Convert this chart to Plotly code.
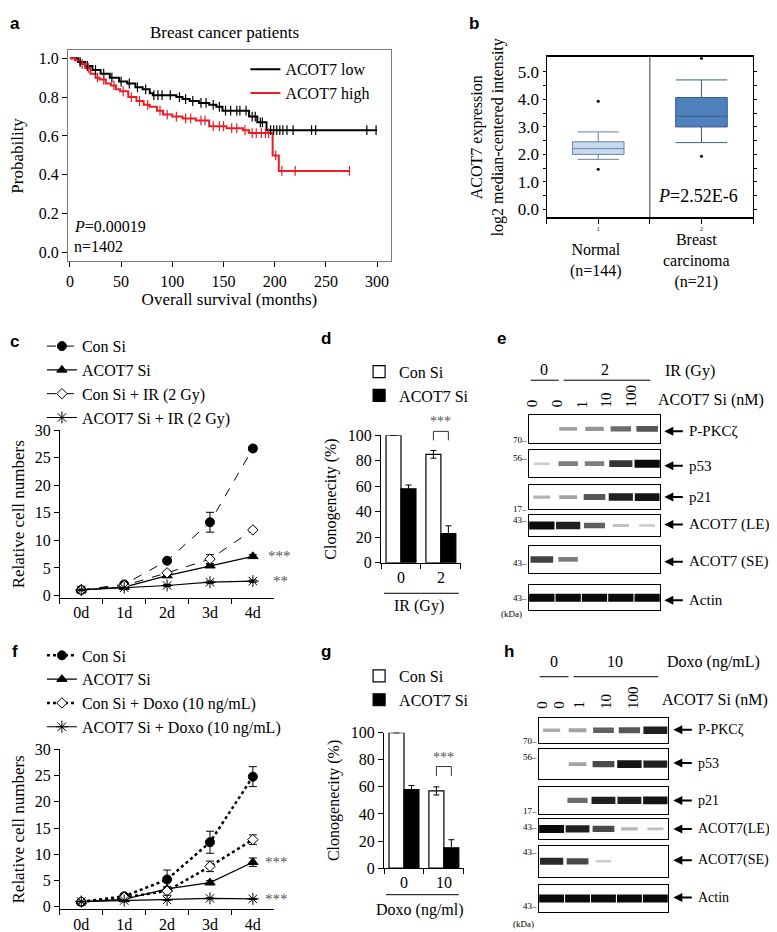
import plotly.graph_objects as go
import numpy as np

W, H = 777, 932


def px(x):
    return x / W


def py(y):
    return 1 - y / H


def xd(a, b):
    return [a / W, b / W]


def yd(top, bottom):
    return [1 - bottom / H, 1 - top / H]


SERIF = "Liberation Serif"
SANS = "Liberation Sans"
RED = "#ec1c24"

# ---------------- data ----------------
# a) Kaplan-Meier, breast cancer patients
km_low_t = [0, 8, 15, 22, 30, 39, 48, 56, 64, 71, 78, 81, 95, 104, 110, 117, 126, 136, 143, 149, 160, 169, 175, 183, 192, 300]
km_low_s = [1.0, 0.98, 0.96, 0.94, 0.92, 0.90, 0.88, 0.87, 0.85, 0.84, 0.82, 0.81, 0.81, 0.80, 0.79, 0.78, 0.77, 0.76, 0.75, 0.73, 0.73, 0.73, 0.70, 0.67, 0.63, 0.63]
km_high_t = [0, 5, 10, 15, 20, 25, 29, 35, 40, 45, 49, 57, 65, 72, 78, 85, 91, 100, 110, 123, 136, 153, 169, 175, 198, 204, 273]
km_high_s = [1.0, 0.99, 0.97, 0.95, 0.92, 0.90, 0.89, 0.87, 0.86, 0.84, 0.83, 0.80, 0.78, 0.76, 0.75, 0.73, 0.71, 0.70, 0.69, 0.68, 0.65, 0.64, 0.63, 0.615, 0.50, 0.42, 0.42]
km_low_cens = [10, 17, 25, 33, 41, 50, 58, 66, 74, 82, 86, 90, 98, 107, 113, 120, 128, 133, 140, 146, 152, 157, 163, 166, 172, 178, 181, 186, 188, 196, 199, 202, 205, 208, 212, 218, 236, 240, 290, 299]
km_high_cens = [12, 18, 27, 33, 43, 52, 60, 68, 76, 88, 95, 104, 113, 118, 128, 132, 140, 146, 150, 158, 163, 171, 178, 182, 187, 191, 194, 201, 207, 220, 273]

# b) Oncomine box plot
box_pos = [0, 1]
box_q1 = [2.00, 3.00]
box_med = [2.21, 3.39]
box_q3 = [2.46, 4.07]
box_lo = [1.82, 2.43]
box_hi = [2.82, 4.71]
box_out_lo = [1.46, 1.93]
box_out_hi = [3.93, 5.50]
box_fill = ["#c5d8ee", "#4f81bd"]
box_line = ["#6a86a8", "#3b5f8a"]

# c) growth with IR
days = ["0d", "1d", "2d", "3d", "4d"]
c_con = [1.0, 2.0, 6.3, 13.3, 26.7]
c_con_err = [0.2, 0.3, 0.4, 1.8, 0.5]
c_acot = [1.0, 1.5, 3.6, 5.4, 7.1]
c_acot_err = [0.1, 0.2, 0.3, 0.3, 0.3]
c_con_ir = [1.0, 1.8, 4.1, 6.6, 11.9]
c_con_ir_err = [0.1, 0.2, 0.3, 0.8, 0.3]
c_acot_ir = [1.0, 1.4, 1.8, 2.4, 2.6]
c_acot_ir_err = [0.1, 0.1, 0.2, 0.2, 0.2]

# f) growth with doxorubicin
f_con = [0.9, 2.0, 5.2, 12.3, 24.8]
f_con_err = [0.3, 0.3, 1.8, 2.1, 1.9]
f_con_dx = [1.0, 1.8, 3.0, 7.7, 12.8]
f_con_dx_err = [0.2, 0.2, 0.8, 1.0, 0.9]
f_acot = [1.0, 1.4, 3.4, 4.6, 8.5]
f_acot_err = [0.1, 0.1, 0.4, 0.4, 0.8]
f_acot_dx = [1.0, 1.2, 1.3, 1.6, 1.5]
f_acot_dx_err = [0.1, 0.1, 0.1, 0.1, 0.1]

# d) clonogenicity IR
d_dose = ["0", "2"]
d_con = [100, 85]
d_con_err = [0, 3]
d_acot = [58, 23]
d_acot_err = [3, 6]

# g) clonogenicity Doxo
g_dose = ["0", "10"]
g_con = [100, 57]
g_con_err = [0, 3]
g_acot = [58, 15]
g_acot_err = [3, 6]

# e/h) western blots: band intensity per lane (0..1)
lanes = ["0", "0", "1", "10", "100"]
blot_names_e = ["P-PKCζ", "p53", "p21", "ACOT7 (LE)", "ACOT7 (SE)", "Actin"]
blot_e = [
    [0.0, 0.30, 0.35, 0.55, 0.65],
    [0.10, 0.45, 0.45, 0.80, 1.00],
    [0.20, 0.30, 0.65, 0.90, 0.95],
    [1.00, 0.90, 0.60, 0.15, 0.10],
    [0.75, 0.45, 0.0, 0.0, 0.0],
    [1.00, 1.00, 1.00, 1.00, 1.00],
]
blot_names_h = ["P-PKCζ", "p53", "p21", "ACOT7(LE)", "ACOT7(SE)", "Actin"]
blot_h = [
    [0.25, 0.30, 0.60, 0.65, 0.90],
    [0.0, 0.30, 0.70, 0.95, 0.90],
    [0.0, 0.55, 0.90, 0.90, 0.95],
    [1.00, 0.90, 0.70, 0.20, 0.15],
    [0.85, 0.70, 0.10, 0.0, 0.0],
    [1.00, 1.00, 1.00, 1.00, 1.00],
]
mw_e = ["70", "56", "17", "43", "43", "43"]
mw_h = ["70", "56", "17", "43", "43", "43"]

# ---------------- figure ----------------
fig = go.Figure()


def step_at(ts, ss, t):
    i = np.searchsorted(np.array(ts), t, side="right") - 1
    return ss[i]


# a
fig.add_trace(go.Scatter(x=km_low_t, y=km_low_s, mode="lines", name="ACOT7 low",
                         line=dict(color="black", width=2, shape="hv"), xaxis="x", yaxis="y", legend="legend"))
fig.add_trace(go.Scatter(x=km_high_t, y=km_high_s, mode="lines", name="ACOT7 high",
                         line=dict(color=RED, width=2, shape="hv"), xaxis="x", yaxis="y", legend="legend"))
fig.add_trace(go.Scatter(x=km_low_cens, y=[step_at(km_low_t, km_low_s, t) for t in km_low_cens], mode="markers",
                         marker=dict(symbol="line-ns", size=7, line=dict(color="black", width=1.2)),
                         showlegend=False, xaxis="x", yaxis="y"))
fig.add_trace(go.Scatter(x=km_high_cens, y=[step_at(km_high_t, km_high_s, t) for t in km_high_cens], mode="markers",
                         marker=dict(symbol="line-ns", size=7, line=dict(color=RED, width=1.2)),
                         showlegend=False, xaxis="x", yaxis="y"))

# b
for i in range(2):
    fig.add_trace(go.Box(x=[box_pos[i]], q1=[box_q1[i]], median=[box_med[i]], q3=[box_q3[i]],
                         lowerfence=[box_lo[i]], upperfence=[box_hi[i]], width=0.5,
                         whiskerwidth=0.8 if i == 0 else 1.0,
                         fillcolor=box_fill[i], line=dict(color=box_line[i], width=1),
                         boxpoints=False, showlegend=False, xaxis="x2", yaxis="y2"))
fig.add_trace(go.Scatter(x=box_pos + box_pos, y=box_out_lo + box_out_hi, mode="markers",
                         marker=dict(color="black", size=3), showlegend=False, xaxis="x2", yaxis="y2"))


# c & f line charts
def growth(xa, ya, y, err, name, dash, symbol, legend, lw=1.0, msize=9, mcolor="black"):
    fig.add_trace(go.Scatter(
        x=days, y=y, name=name, mode="lines+markers",
        line=dict(color="black", width=lw, dash=dash),
        marker=dict(symbol=symbol, size=msize, color=mcolor, line=dict(color="black", width=1)),
        error_y=dict(type="data", array=err, color="black", thickness=1, width=4),
        xaxis=xa, yaxis=ya, legend=legend))


growth("x3", "y3", c_con, c_con_err, "Con Si", "dash", "circle", "legend2")
growth("x3", "y3", c_acot, c_acot_err, "ACOT7 Si", "solid", "triangle-up", "legend2", lw=1.2)
growth("x3", "y3", c_con_ir, c_con_ir_err, "Con Si + IR (2 Gy)", "dash", "diamond", "legend2", msize=8, mcolor="white")
growth("x3", "y3", c_acot_ir, c_acot_ir_err, "ACOT7 Si + IR (2 Gy)", "solid", "asterisk-open", "legend2", lw=1.2, msize=10)

growth("x5", "y5", f_con, f_con_err, "Con Si", "dot", "circle", "legend4", lw=2.5)
growth("x5", "y5", f_acot, f_acot_err, "ACOT7 Si", "solid", "triangle-up", "legend4", lw=1.2)
growth("x5", "y5", f_con_dx, f_con_dx_err, "Con Si + Doxo (10 ng/mL)", "dot", "diamond", "legend4", lw=2.5, msize=8, mcolor="white")
growth("x5", "y5", f_acot_dx, f_acot_dx_err, "ACOT7 Si + Doxo (10 ng/mL)", "solid", "asterisk-open", "legend4", lw=1.2, msize=10)

# d & g bars
BARGAP = 0.25


def bars(xa, ya, cats, con, con_err, acot, acot_err, legend):
    fig.add_trace(go.Bar(x=cats, y=con, name="Con Si", marker=dict(color="white", line=dict(color="black", width=1.2)),
                         error_y=dict(type="data", array=con_err, color="black", thickness=1, width=3),
                         xaxis=xa, yaxis=ya, legend=legend, offsetgroup="con"))
    fig.add_trace(go.Bar(x=cats, y=acot, name="ACOT7 Si", marker=dict(color="black", line=dict(color="black", width=1.2)),
                         error_y=dict(type="data", array=acot_err, color="black", thickness=1, width=3),
                         xaxis=xa, yaxis=ya, legend=legend, offsetgroup="acot"))


bars("x4", "y4", d_dose, d_con, d_con_err, d_acot, d_acot_err, "legend3")
bars("x6", "y6", g_dose, g_con, g_con_err, g_acot, g_acot_err, "legend5")


# blots
def blot(ax_idx, values):
    for li, v in enumerate(values):
        if v <= 0:
            continue
        half = 0.28 + 0.2 * v
        fig.add_trace(go.Scatter(
            x=[li - half, li + half], y=[0, 0], mode="lines",
            line=dict(color=f"rgba(10,10,10,{0.12 + 0.88 * v:.2f})", width=2 + 6 * v),
            showlegend=False, hoverinfo="skip",
            xaxis=f"x{ax_idx}", yaxis=f"y{ax_idx}"))


for k in range(6):
    blot(7 + k, blot_e[k])
    blot(13 + k, blot_h[k])

# ---------------- layout ----------------
tickfont = dict(family=SERIF, size=16, color="black")


def ax(domain, anchor, **kw):
    d = dict(domain=domain, anchor=anchor, showgrid=False, zeroline=False, showline=True,
             linecolor="black", linewidth=1, ticks="outside", ticklen=5, tickcolor="black",
             tickfont=tickfont)
    d.update(kw)
    return d


layout = dict(
    width=W, height=H, margin=dict(l=0, r=0, t=0, b=0),
    paper_bgcolor="white", plot_bgcolor="rgba(0,0,0,0)",
    font=dict(family=SERIF, size=15, color="black"),
    barmode="group", bargap=BARGAP, bargroupgap=0,
)

# a
layout["xaxis"] = ax(xd(58, 382), "y", range=[-2, 313.6], tickvals=[0, 50, 100, 150, 200, 250, 300],
                     mirror=True, linecolor="#7a7a7a",
                     title=dict(text="Overall survival (months)", font=dict(family=SERIF, size=17), standoff=2))
layout["yaxis"] = ax(yd(35, 250), "x", range=[-0.0455, 1.0404], tickvals=[0, 0.2, 0.4, 0.6, 0.8, 1.0],
                     ticktext=["0.0", "0.2", "0.4", "0.6", "0.8", "1.0"], mirror=True, linecolor="#7a7a7a",
                     title=dict(text="Probability", font=dict(family=SERIF, size=17), standoff=10))
# b
layout["xaxis2"] = ax(xd(538, 745), "y2", range=[-0.5, 1.5], tickvals=[-0.5, 0, 0.5, 1, 1.5],
                      ticktext=["", "1", "", "2", ""], tickfont=dict(family=SERIF, size=6), mirror=True,
                      linewidth=1.5, ticklen=5)
layout["yaxis2"] = ax(yd(42, 205), "x2", range=[-0.286, 5.536],
                      tickvals=[0, 0.5, 1, 1.5, 2, 2.5, 3, 3.5, 4, 4.5, 5],
                      ticktext=["0.0", "", "1.0", "", "2.0", "", "3.0", "", "4.0", "", "5.0"],
                      mirror="ticks", linewidth=1.2, ticklen=3, tickfont=dict(family=SERIF, size=17),
                      title=dict(text="ACOT7 expression<br>log2 median-centered intensity",
                                 font=dict(family=SERIF, size=16), standoff=10))
# c
layout["xaxis3"] = ax(xd(50, 265), "y3", type="category", range=[-0.5, 4.5], tickson="boundaries")
layout["yaxis3"] = ax(yd(422, 593), "x3", range=[-0.5, 30], tickvals=[0, 5, 10, 15, 20, 25, 30],
                      title=dict(text="Relative cell numbers", font=dict(family=SERIF, size=17), standoff=5))
# d
layout["xaxis4"] = ax(xd(372, 452), "y4", type="category", range=[-0.5, 1.5], tickson="boundaries")
layout["yaxis4"] = ax(yd(427, 557), "x4", range=[0, 100], tickvals=[0, 20, 40, 60, 80, 100],
                      title=dict(text="Clonogenecity (%)", font=dict(family=SERIF, size=16), standoff=7))
# f
layout["xaxis5"] = ax(xd(50, 265), "y5", type="category", range=[-0.5, 4.5], tickson="boundaries")
layout["yaxis5"] = ax(yd(747, 910), "x5", range=[-0.5, 30], tickvals=[0, 5, 10, 15, 20, 25, 30],
                      title=dict(text="Relative cell numbers", font=dict(family=SERIF, size=17), standoff=5))
# g
layout["xaxis6"] = ax(xd(375, 455), "y6", type="category", range=[-0.5, 1.5], tickson="boundaries")
layout["yaxis6"] = ax(yd(730, 868), "x6", range=[0, 100], tickvals=[0, 20, 40, 60, 80, 100],
                      title=dict(text="Clonogenecity (%)", font=dict(family=SERIF, size=16), standoff=7))

# blot frames
e_boxes = [(406, 435), (442, 470), (478, 502), (508, 530), (540, 567), (580, 605)]
h_boxes = [(715, 740), (747, 777), (785, 813), (818, 838), (845, 877), (885, 913)]
for k in range(6):
    for idx, (x0, x1), box in ((7 + k, (520, 652), e_boxes[k]), (13 + k, (530, 660), h_boxes[k])):
        layout[f"xaxis{idx}"] = dict(domain=xd(x0, x1), anchor=f"y{idx}", range=[-0.5, 4.5], showgrid=False,
                                     zeroline=False, showline=True, mirror=True, linecolor="black", linewidth=1,
                                     showticklabels=False, ticks="")
        layout[f"yaxis{idx}"] = dict(domain=yd(*box), anchor=f"x{idx}", range=[-1, 1], showgrid=False,
                                     zeroline=False, showline=True, mirror=True, linecolor="black", linewidth=1,
                                     showticklabels=False, ticks="")

# legends
legfont = dict(family=SERIF, size=16, color="black")
layout["legend"] = dict(x=px(236), y=py(37), xanchor="left", yanchor="top", font=legfont,
                        bgcolor="rgba(0,0,0,0)", itemwidth=30, tracegroupgap=0)
layout["legend2"] = dict(x=px(32), y=py(319), xanchor="left", yanchor="top", font=legfont,
                         bgcolor="rgba(0,0,0,0)", itemwidth=30, tracegroupgap=0)
layout["legend3"] = dict(x=px(350), y=py(345), xanchor="left", yanchor="top", font=legfont,
                         bgcolor="rgba(0,0,0,0)", tracegroupgap=0)
layout["legend4"] = dict(x=px(32), y=py(634), xanchor="left", yanchor="top", font=legfont,
                         bgcolor="rgba(0,0,0,0)", itemwidth=30, tracegroupgap=0)
layout["legend5"] = dict(x=px(350), y=py(655), xanchor="left", yanchor="top", font=legfont,
                         bgcolor="rgba(0,0,0,0)", tracegroupgap=0)

# annotations
anns = []


def ann(text, x, y, size=15, xanchor="center", yanchor="middle", family=SERIF, **kw):
    d = dict(text=text, x=px(x), y=py(y), xref="paper", yref="paper", xanchor=xanchor, yanchor=yanchor,
             showarrow=False, font=dict(family=family, size=size, color=kw.pop("color", "black")))
    d.update(kw)
    anns.append(d)


def arrow(xhead, y, length):
    anns.append(dict(text="", x=px(xhead), y=py(y), xref="paper", yref="paper", showarrow=True,
                     ax=length, ay=0, axref="pixel", ayref="pixel", arrowhead=2, arrowsize=0.9,
                     arrowwidth=2, arrowcolor="black", standoff=0, startstandoff=0))


for letter, x, y in [("a", 5, 8), ("b", 465, 8), ("c", 5, 332), ("d", 317, 328), ("e", 493, 328),
                     ("f", 5, 647), ("g", 317, 647), ("h", 500, 647)]:
    ann(f"<b>{letter}</b>", x, y, size=17, xanchor="center", family=SANS)

ann("Breast cancer patients", 215, 17, size=17)
ann("<i>P</i>=0.00019", 62, 214, size=16, xanchor="left")
ann("n=1402", 62, 235, size=16, xanchor="left")

ann("<i>P</i>=2.52E-6", 690, 183, size=18)
ann("Normal<br>(n=144)", 588, 227, size=16, yanchor="top")
ann("Breast<br>carcinoma<br>(n=21)", 688, 217, size=16, yanchor="top")

# stars c / f
for text, xx, yy, yref in (("***", 257, c_acot[-1], "y3"), ("**", 262, c_acot_ir[-1], "y3"),
                           ("***", 254, f_acot[-1], "y5"), ("***", 254, f_acot_dx[-1], "y5")):
    anns.append(dict(text=text, x=px(xx), y=yy, xref="paper", yref=yref, xanchor="left",
                     showarrow=False, font=dict(family=SERIF, size=15, color="#555")))

# bar x-titles
ann("IR (Gy)", 410, 601, size=16)
ann("Doxo (ng/ml)", 411, 911, size=16)

shapes = []


def hline(x0, x1, y, width=1):
    shapes.append(dict(type="line", xref="paper", yref="paper", x0=px(x0), x1=px(x1), y0=py(y), y1=py(y),
                       line=dict(color="black", width=width)))


hline(375, 450, 588)
hline(377, 450, 895)


def to_paper(yaxis_name, v):
    a = layout[yaxis_name]
    d0, d1 = a["domain"]
    r0, r1 = a["range"]
    return d0 + (v - r0) / (r1 - r0) * (d1 - d0)


# significance brackets (above the irradiated / treated pair)
bw = (1 - BARGAP) / 2
for xa, yname, con, err in (("x4", "yaxis4", d_con, d_con_err), ("x6", "yaxis6", g_con, g_con_err)):
    top = to_paper(yname, con[1] + err[1] + 15)
    legs = to_paper(yname, con[1] + err[1] + 8)
    xl, xr = 1 - bw / 2, 1 + bw / 2
    shapes.append(dict(type="path", xref=xa, yref="paper",
                       path=f"M {xl},{legs} L {xl},{top} L {xr},{top} L {xr},{legs}",
                       line=dict(color="#333", width=1)))
    anns.append(dict(text="***", x=1, y=top, xref=xa, yref="paper", yanchor="bottom", showarrow=False,
                     font=dict(family=SERIF, size=14, color="#555")))

# b divider
shapes.append(dict(type="line", xref="x2", yref="paper", x0=0.5, x1=0.5, y0=py(205), y1=py(42),
                   line=dict(color="#333", width=1)))

# e header
ann("0", 535, 360, size=16)
ann("2", 597, 360, size=16)
ann("IR (Gy)", 655, 362, size=16, xanchor="left")
hline(522, 550, 371)
hline(555, 642, 371)
e_lane_x = [533, 558, 583, 608, 633]
for lx, lab in zip(e_lane_x, lanes):
    anns.append(dict(text=lab, x=px(lx), y=py(401), xref="paper", yref="paper", textangle=-90,
                     yanchor="bottom", showarrow=False, font=dict(family=SERIF, size=15, color="black")))
ann("ACOT7 Si (nM)", 648, 391, size=16, xanchor="left")

e_label_y = [423, 458, 490, 518, 556, 595]
e_mw_y = [432, 450, 502, 513, 557, 593]
for k in range(6):
    arrow(656, e_label_y[k], 20)
    ann(blot_names_e[k], 679, e_label_y[k], size=15, xanchor="left")
    ann(mw_e[k] + "–", 520, e_mw_y[k], size=9, xanchor="right")
ann("(kDa)", 503, 609, size=9)

# h header
ann("0", 545, 658, size=16)
ann("10", 607, 658, size=16)
ann("Doxo (ng/mL)", 657, 658, size=16, xanchor="left")
hline(531, 560, 673)
hline(565, 650, 673)
h_lane_x = [543, 561, 581, 607, 634]
for lx, lab in zip(h_lane_x, lanes):
    anns.append(dict(text=lab, x=px(lx), y=py(708), xref="paper", yref="paper", textangle=-90,
                     yanchor="bottom", showarrow=False, font=dict(family=SERIF, size=15, color="black")))
ann("ACOT7 Si (nM)", 652, 697, size=16, xanchor="left")

h_label_y = [727, 761, 799, 828, 860, 898]
h_mw_y = [738, 755, 810, 826, 852, 907]
for k in range(6):
    arrow(665, h_label_y[k], 20)
    ann(blot_names_h[k], 688, h_label_y[k], size=14, xanchor="left")
    ann(mw_h[k] + "–", 530, h_mw_y[k], size=9, xanchor="right")
ann("(kDa)", 515, 925, size=9)

layout["annotations"] = anns
layout["shapes"] = shapes

fig.update_layout(**layout)
fig.write_html("out.html")
